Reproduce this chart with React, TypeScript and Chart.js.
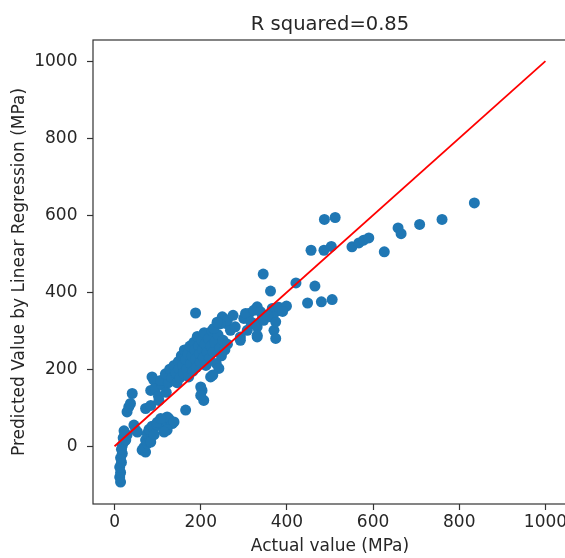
import React, { useEffect, useRef } from "react";
import { Chart, registerables } from "chart.js";

Chart.register(...registerables);

const titleText = "R squared=0.85";
const xLabel = "Actual value (MPa)";
const yLabel = "Predicted Value by Linear Regression (MPa)";

const xTicks = [0, 200, 400, 600, 800, 1000];
const yTicks = [0, 200, 400, 600, 800, 1000];

const lineX = [0, 1000];
const lineY = [0, 1000];

const actualValues = [
  14, 12, 14, 12, 16, 14, 18, 16, 18, 22, 20, 26, 24, 29, 22, 45, 49, 53, 29, 33, 37, 41,
  64, 72, 68, 76, 72, 80, 76, 84, 80, 91, 87, 99, 107, 99, 118, 126, 122, 107, 134, 138, 122, 115, 84, 92,
  72, 84, 84, 87, 91, 95, 102, 110, 114, 107, 103, 120, 125, 118,
  128, 133, 138, 142, 145, 148, 150, 152, 155, 158, 160, 162, 165, 167, 170, 172, 175, 177, 180, 182,
  184, 186, 188, 190, 192, 195, 197, 199, 202, 204, 206, 208, 210, 212, 215, 218, 220, 223, 226, 229,
  232, 236, 240, 244, 248, 252, 256, 262,
  242, 223, 203, 207, 165, 200, 200, 228,
  188, 250, 258, 230, 269, 292, 300, 312, 331, 323, 331, 280, 262, 245, 275, 238,
  292, 304, 308, 316, 323, 331, 339, 343, 345, 362, 362, 366, 370, 374, 374, 374, 381, 399, 421, 346, 355, 390, 331,
  448, 456, 465, 480, 486, 487, 503, 505, 512, 551, 567, 578, 590, 626, 658, 665, 708, 760, 835,
];

const predictedValues = [
  -93, -80, -68, -54, -42, -30, -19, -8, 2, 12, 22, 16, 32, 29, 40, 55, 42, 37, 89, 102, 111, 137,
  -10, -15, -3, 7, 16, 24, 33, 37, 44, 46, 52, 55, 59, 62, 68, 72, 76, 72, 59, 63, 42, 37, 11, 30,
  98, 106, 145, 180, 172, 150, 130, 160, 171, 171, 119, 140, 165, 188,
  200, 178, 210, 190, 165, 220, 200, 178, 235, 210, 190, 250, 225, 200, 240, 180, 260, 215, 235, 195,
  270, 250, 225, 205, 285, 260, 240, 218, 275, 250, 230, 295, 265, 210, 245, 280, 228, 260, 300, 245,
  270, 215, 290, 255, 235, 275, 250, 265,
  202, 180, 145, 119, 94, 154, 132, 185,
  346, 336, 319, 306, 301, 284, 332, 345, 362, 319, 284, 310, 328, 318, 340, 322,
  275, 345, 301, 323, 353, 310, 349, 332, 447, 403, 336, 358, 301, 323, 349, 280, 361, 364, 424, 327, 340, 350, 288,
  372, 509, 416, 375, 509, 589, 519, 381, 594, 518, 528, 535, 541, 505, 567, 552, 576, 589, 632,
];

const FONT = "'DejaVu Sans', sans-serif";
const TEXT_COLOR = "#262626";
const AXIS_COLOR = "#333333";

const framePlugin = {
  id: "frameBox",
  afterDatasetsDraw(chart: any) {
    const { ctx, chartArea: a } = chart;
    ctx.save();
    ctx.strokeStyle = AXIS_COLOR;
    ctx.lineWidth = 1.2;
    ctx.strokeRect(a.left, a.top, a.right - a.left, a.bottom - a.top);
    ctx.restore();
  },
};

const plainLabel = (v: any) => String(v);

export default function App() {
  const canvasRef = useRef<HTMLCanvasElement | null>(null);

  useEffect(() => {
    if (!canvasRef.current) return;
    const points = actualValues.map((x, i) => ({ x, y: predictedValues[i] }));
    const linePts = lineX.map((x, i) => ({ x, y: lineY[i] }));
    const chart = new Chart(canvasRef.current, {
      type: "scatter",
      data: {
        datasets: [
          {
            type: "line",
            label: "y = x",
            data: linePts,
            borderColor: "#ff0000",
            borderWidth: 1.8,
            pointRadius: 0,
            fill: false,
            tension: 0,
          } as any,
          {
            label: "Predictions",
            data: points,
            backgroundColor: "#1f77b4",
            borderColor: "#1f77b4",
            borderWidth: 0,
            pointRadius: 5.5,
            pointHoverRadius: 5.5,
          },
        ],
      },
      options: {
        responsive: false,
        animation: false,
        devicePixelRatio: 1,
        layout: { padding: 0, autoPadding: false } as any,
        plugins: {
          legend: { display: false },
          tooltip: { enabled: false },
          title: {
            display: true,
            text: titleText,
            fullSize: false,
            color: TEXT_COLOR,
            font: { family: FONT, size: 19.5, weight: "normal", lineHeight: 1.2 },
            padding: { top: 13.5, bottom: 3.1 },
          } as any,
        },
        scales: {
          x: {
            type: "linear",
            min: -50,
            max: 1050,
            afterBuildTicks: (s: any) => {
              s.ticks = xTicks.map((v) => ({ value: v }));
            },
            afterFit: (s: any) => {
              s.height = 54;
              s.paddingLeft = 0;
              s.paddingRight = 0;
            },
            grid: {
              display: true,
              drawOnChartArea: false,
              drawTicks: true,
              tickLength: 6,
              tickColor: AXIS_COLOR,
              tickWidth: 1.2,
            },
            border: { display: false },
            ticks: {
              font: { family: FONT, size: 17 },
              color: TEXT_COLOR,
              padding: 2.5,
              maxRotation: 0,
              autoSkip: false,
              callback: plainLabel,
            },
            title: {
              display: true,
              text: xLabel,
              color: TEXT_COLOR,
              font: { family: FONT, size: 17, lineHeight: 1.2 },
              padding: { top: 0, bottom: 1 },
            },
          },
          y: {
            type: "linear",
            min: -150,
            max: 1055,
            afterBuildTicks: (s: any) => {
              s.ticks = yTicks.map((v) => ({ value: v }));
            },
            afterFit: (s: any) => {
              s.width = 93;
              s.paddingTop = 0;
              s.paddingBottom = 0;
            },
            grid: {
              display: true,
              drawOnChartArea: false,
              drawTicks: true,
              tickLength: 6,
              tickColor: AXIS_COLOR,
              tickWidth: 1.2,
            },
            border: { display: false },
            ticks: {
              font: { family: FONT, size: 17 },
              color: TEXT_COLOR,
              padding: 9.5,
              autoSkip: false,
              callback: plainLabel,
            },
            title: {
              display: true,
              text: yLabel,
              color: TEXT_COLOR,
              font: { family: FONT, size: 17, lineHeight: 1.2 },
              padding: { top: 8.9, bottom: 0 },
            },
          },
        },
      },
      plugins: [framePlugin],
    });
    return () => chart.destroy();
  }, []);

  return (
    <div
      style={{
        position: "absolute",
        left: 0,
        top: 0,
        width: 565,
        height: 558,
        overflow: "hidden",
        background: "#ffffff",
      }}
    >
      <canvas ref={canvasRef} width={567} height={558} style={{ display: "block" }} />
    </div>
  );
}
